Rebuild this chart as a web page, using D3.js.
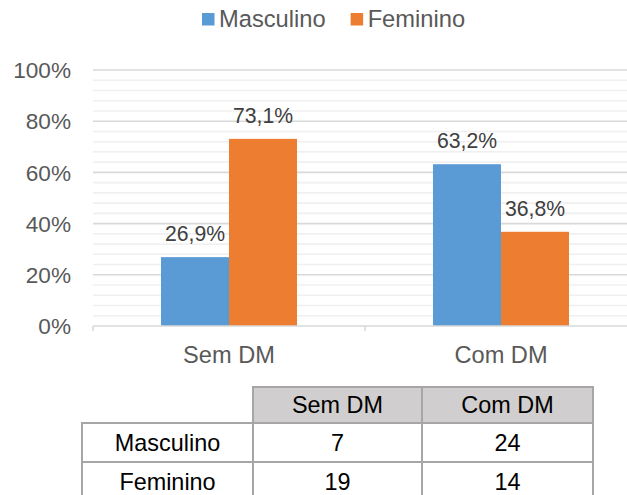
<!DOCTYPE html>
<html><head><meta charset="utf-8">
<script src="https://cdn.jsdelivr.net/npm/d3@7"></script>
<style>
html,body{margin:0;padding:0;background:#fff;}
svg{display:block;font-family:Arial,"Liberation Sans",sans-serif;}
</style></head>
<body>
<svg id="chart" width="627" height="495"></svg>
<script>
// ---- data ----
const categories = ["Sem DM", "Com DM"];
const seriesNames = ["Masculino", "Feminino"];
const masculino = [0.269, 0.632];
const feminino = [0.731, 0.368];
const yTicks = [0, 0.2, 0.4, 0.6, 0.8, 1.0];
const minorTicks = d3.range(0, 1.0001, 0.04);
const tableCols = ["Sem DM", "Com DM"];
const tableRowNames = ["Masculino", "Feminino"];
const tableMasculino = [7, 24];
const tableFeminino = [19, 14];

const colors = ["#5b9bd5", "#ed7d31"];
const series = [masculino, feminino];

const svg = d3.select("#chart");
const plotLeft = 93, plotRight = 637, plotTop = 70, plotBottom = 326;

const x = d3.scaleBand().domain(categories).range([plotLeft, plotRight]).paddingInner(0).paddingOuter(0);
const xs = d3.scaleBand().domain(seriesNames).range([0, x.bandwidth()]).paddingInner(0).paddingOuter(1);
const y = d3.scaleLinear().domain([0, 1]).range([plotBottom, plotTop]);

const loc = d3.formatLocale({decimal: ",", thousands: ".", grouping: [3], currency: ["", ""]});
const fmtLabel = loc.format(".1%");
const fmtTick = loc.format(".0%");

// minor gridlines
svg.append("g").selectAll("line").data(minorTicks.filter(t => !yTicks.some(m => Math.abs(m - t) < 1e-6)))
  .join("line")
  .attr("x1", plotLeft).attr("x2", 627)
  .attr("y1", d => y(d)).attr("y2", d => y(d))
  .attr("stroke", "#f0f0f0").attr("stroke-width", 1.6);
// major gridlines
svg.append("g").selectAll("line").data(yTicks.filter(t => t > 0))
  .join("line")
  .attr("x1", plotLeft).attr("x2", 627)
  .attr("y1", d => y(d)).attr("y2", d => y(d))
  .attr("stroke", "#d9d9d9").attr("stroke-width", 1.6);

// y tick labels
svg.append("g").selectAll("text").data(yTicks).join("text")
  .attr("x", 71).attr("y", d => y(d) + 8.2)
  .attr("text-anchor", "end")
  .attr("font-size", 22.6).attr("fill", "#595959")
  .text(d => fmtTick(d));

// bars
const barLayer = svg.append("g");
const labelLayer = svg.append("g");
seriesNames.forEach((s, si) => {
  barLayer.append("g").attr("fill", colors[si]).selectAll("rect").data(categories).join("rect")
    .attr("x", c => x(c) + xs(s))
    .attr("width", xs.bandwidth())
    .attr("y", (c, ci) => y(series[si][ci]))
    .attr("height", (c, ci) => plotBottom - y(series[si][ci]));
  labelLayer.append("g").selectAll("text").data(categories).join("text")
    .attr("x", c => x(c) + xs(s) + xs.bandwidth() / 2)
    .attr("y", (c, ci) => y(series[si][ci]) - 16)
    .attr("text-anchor", "middle")
    .attr("font-size", 21.2).attr("fill", "#404040")
    .text((c, ci) => fmtLabel(series[si][ci]));
});

// x axis line and ticks
svg.append("line").attr("x1", plotLeft).attr("x2", 627).attr("y1", plotBottom).attr("y2", plotBottom)
  .attr("stroke", "#d9d9d9").attr("stroke-width", 1.6);
const tickXs = categories.map(c => x(c)).concat([x(categories[categories.length - 1]) + x.bandwidth()]);
svg.append("g").selectAll("line").data(tickXs).join("line")
  .attr("x1", d => d).attr("x2", d => d).attr("y1", plotBottom).attr("y2", plotBottom + 5)
  .attr("stroke", "#d9d9d9").attr("stroke-width", 1.6);

// category labels
svg.append("g").selectAll("text").data(categories).join("text")
  .attr("x", c => x(c) + x.bandwidth() / 2).attr("y", 363)
  .attr("text-anchor", "middle")
  .attr("font-size", 23.6).attr("fill", "#595959")
  .text(c => c);

// legend
const legend = svg.append("g");
let lx = 202;
seriesNames.forEach((s, i) => {
  legend.append("rect").attr("x", lx).attr("y", 13).attr("width", 12.5).attr("height", 12.5).attr("fill", colors[i]);
  const t = legend.append("text").attr("x", lx + 17).attr("y", 27.3)
    .attr("font-size", 23.7).attr("fill", "#595959").text(s);
  lx = lx + 17 + t.node().getComputedTextLength() + 25;
});

// table
const colX = [82, 253, 422, 593];
const rowY = [387, 423, 462, 501];
const tableData = [tableMasculino, tableFeminino];
const tg = svg.append("g");
tableCols.forEach((c, i) => {
  tg.append("rect").attr("x", colX[i + 1]).attr("y", rowY[0])
    .attr("width", colX[i + 2] - colX[i + 1]).attr("height", rowY[1] - rowY[0])
    .attr("fill", "#d0cece").attr("stroke", "#a6a6a6").attr("stroke-width", 2);
});
tableRowNames.forEach((r, ri) => {
  for (let ci = 0; ci < 3; ci++) {
    tg.append("rect").attr("x", colX[ci]).attr("y", rowY[ri + 1])
      .attr("width", colX[ci + 1] - colX[ci]).attr("height", rowY[ri + 2] - rowY[ri + 1])
      .attr("fill", "#fff").attr("stroke", "#a6a6a6").attr("stroke-width", 2);
  }
});
tableCols.forEach((c, i) => {
  tg.append("text").attr("x", (colX[i + 1] + colX[i + 2]) / 2).attr("y", (rowY[0] + rowY[1]) / 2 + 8.4)
    .attr("text-anchor", "middle").attr("font-size", 23.4).attr("fill", "#000").text(c);
});
tableRowNames.forEach((r, ri) => {
  const cy = (rowY[ri + 1] + rowY[ri + 2]) / 2 + 8.4;
  tg.append("text").attr("x", (colX[0] + colX[1]) / 2).attr("y", cy)
    .attr("text-anchor", "middle").attr("font-size", 23.4).attr("fill", "#000").text(r);
  tableData[ri].forEach((v, ci) => {
    tg.append("text").attr("x", (colX[ci + 1] + colX[ci + 2]) / 2).attr("y", cy)
      .attr("text-anchor", "middle").attr("font-size", 23.4).attr("fill", "#000").text(v);
  });
});
</script>
</body></html>
